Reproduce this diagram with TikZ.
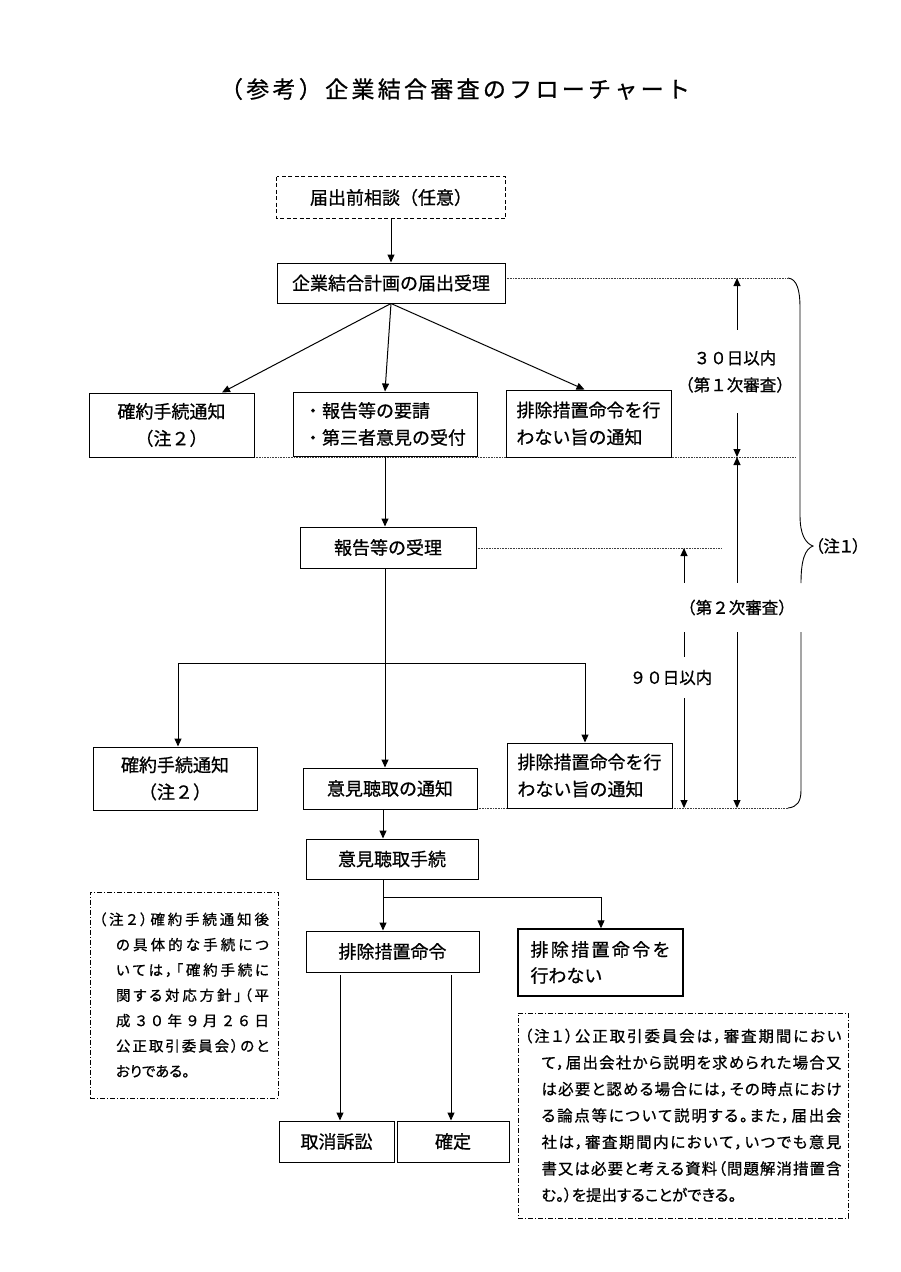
\documentclass[tikz,border=0pt]{standalone}
\usepackage{fontspec}
\setmainfont{Noto Sans CJK JP}[FakeBold=0.8]
\newfontfamily\jpp{Noto Sans CJK JP}[RawFeature=+palt, FakeBold=0.8]
\usetikzlibrary{arrows.meta}
\makeatletter
\def\spreadaux#1#2\endsp{#1\if\relax\detokenize{#2}\relax\else\hfil\spreadaux#2\endsp\fi}
\makeatother
\newcommand{\sline}[2]{\makebox[#1][s]{\spreadaux#2\endsp}}
\tikzset{
 bx/.style={draw, line width=1pt, fill=white, inner sep=0pt, font=\fontsize{18}{27}\selectfont, align=center},
 cn/.style={line width=1pt},
 arr/.style={line width=1pt, -{Triangle[length=8pt,width=7pt]}},
 dbl/.style={line width=1pt, {Triangle[length=8pt,width=7pt]}-{Triangle[length=8pt,width=7pt]}},
 dotln/.style={line width=0.6pt, densely dotted, draw=black!75},
 lbl/.style={fill=white, inner sep=0pt, font=\fontsize{16.5}{27}\selectfont, align=center},
 note/.style={draw, line width=0.8pt, dash pattern=on 5pt off 2pt on 1pt off 2pt, inner sep=0pt, align=left}
}
\begin{document}
\begin{tikzpicture}[x=1pt,y=-1pt]
\fill[white] (0,0) rectangle (900,1272);
\useasboundingbox (0,0) rectangle (900,1272);

\node[font=\fontsize{23}{30}\selectfont, inner sep=0pt, align=center] (title) at (455,89) {\sline{470pt}{（参考）企業結合審査のフローチャート}};

% dotted guide lines
\draw[dotln] (505,278) -- (788,278);
\draw[dotln] (254,457) -- (796,457);
\draw[dotln] (476,548) -- (721,548);
\draw[dotln] (477,808) -- (788,808);

% boxes
\node[bx, draw=none, minimum width=228pt, minimum height=41pt] (n0) at (391,197.5) {届出前相談（任意）};
\draw[line width=1pt, dash pattern=on 4pt off 2.5pt] (n0.north west) rectangle (n0.south east);
\node[bx, minimum width=228pt, minimum height=40pt] (n1) at (391,283) {企業結合計画の届出受理};
\node[bx, minimum width=165pt, minimum height=64pt] (k1) at (171.5,425) {確約手続通知\\（注２）};
\node[bx, align=left, minimum width=184pt, minimum height=64pt] (r1) at (385,424) {・報告等の要請\\・第三者意見の受付};
\node[bx, align=left, minimum width=165pt, minimum height=67pt] (h1) at (588.5,423.5) {排除措置命令を行\\わない旨の通知};
\node[bx, minimum width=176pt, minimum height=41pt] (n2) at (388,547.5) {報告等の受理};
\node[bx, minimum width=164pt, minimum height=63pt] (k2) at (175,778.5) {確約手続通知\\（注２）};
\node[bx, minimum width=174pt, minimum height=41pt] (n3) at (390,788.5) {意見聴取の通知};
\node[bx, align=left, minimum width=165pt, minimum height=65pt] (h2) at (589.5,775.5) {排除措置命令を行\\わない旨の通知};
\node[bx, minimum width=172pt, minimum height=40pt] (n4) at (392,859) {意見聴取手続};
\node[bx, minimum width=173pt, minimum height=41pt] (n5) at (392.5,951.5) {排除措置命令};
\node[bx, line width=1.4pt, align=left, font=\fontsize{18}{26}\selectfont, minimum width=165pt, minimum height=67pt] (n6) at (600.5,962.5) {\sline{140pt}{排除措置命令を}\\行わない\hspace*{68pt}};
\node[bx, minimum width=115pt, minimum height=41pt] (n7) at (336.5,1141.5) {取消訴訟};
\node[bx, minimum width=112pt, minimum height=41pt] (n8) at (453,1141.5) {確定};

% notes
\node[note, font=\jpp\fontsize{14.5}{25.3}\selectfont, minimum width=188pt, minimum height=206pt] (note2) at (184,995) {%
\sline{170pt}{（注２）確約手続通知後}\\
\hspace*{17pt}\sline{153pt}{の具体的な手続につ}\\
\hspace*{17pt}\sline{153pt}{いては，「確約手続に}\\
\hspace*{17pt}\sline{153pt}{関する対応方針」（平}\\
\hspace*{17pt}\sline{153pt}{成３０年９月２６日}\\
\hspace*{17pt}\sline{153pt}{公正取引委員会）のと}\\
\hspace*{17pt}おりである。};
\node[note, font=\jpp\fontsize{15.5}{26.5}\selectfont, minimum width=330pt, minimum height=205pt] (note1) at (683,1115.5) {%
\sline{317pt}{（注１）公正取引委員会は，審査期間におい}\\
\hspace*{17pt}\sline{300pt}{て，届出会社から説明を求められた場合又}\\
\hspace*{17pt}\sline{300pt}{は必要と認める場合には，その時点におけ}\\
\hspace*{17pt}\sline{300pt}{る論点等について説明する。また，届出会}\\
\hspace*{17pt}\sline{300pt}{社は，審査期間内において，いつでも意見}\\
\hspace*{17pt}\sline{300pt}{書又は必要と考える資料（問題解消措置含}\\
\hspace*{17pt}む。）を提出することができる。};

% connectors
\draw[arr] (n0.south) -- (n1.north);
\draw[arr] (n1.south) -- ([xshift=50.5pt]k1.north);
\draw[arr] (n1.south) -- (r1.north);
\draw[arr] (n1.south) -- ([xshift=-4pt]h1.north);
\draw[arr] (r1.south) -- (r1.south |- n2.north);
\draw[arr] (r1.south |- n2.south) -- (r1.south |- n3.north);
\coordinate (bl) at (178,663);
\coordinate (br) at (585,663);
\draw[cn] (bl) -- (br);
\draw[arr] (bl) -- (bl |- k2.north);
\draw[arr] (br) -- (br |- h2.north);
\coordinate (c3) at (383,0);
\draw[arr] (c3 |- n3.south) -- (c3 |- n4.north);
\coordinate (j4) at (383,897);
\coordinate (c6) at (601,0);
\draw[cn] (c3 |- n4.south) -- (j4);
\draw[arr] (j4) -- (j4 |- n5.north);
\draw[arr] (j4) -| (c6 |- n6.north);
\coordinate (c7) at (340,975);
\coordinate (c8) at (451,975);
\draw[arr] (c7) -- (c7 |- n7.north);
\draw[arr] (c8) -- (c8 |- n8.north);

% time-line arrows
\coordinate (t1) at (737,278);
\coordinate (t2) at (737,457);
\coordinate (t3) at (737,808);
\coordinate (u1) at (684,548);
\coordinate (u2) at (684,808);
\draw[dbl] (t1) -- (t2);
\draw[dbl] (t2) -- (t3);
\draw[dbl] (u1) -- (u2);
\node[lbl, minimum height=83pt] (l30) at (735,371.5) {３０日以内\\（第１次審査）};
\node[lbl, minimum height=49pt, minimum width=114pt] (l2) at (737,607.5) {（第２次審査）};
\node[lbl, minimum height=41pt] (l90) at (671,677.5) {９０日以内};

% brace
\draw[line width=0.9pt] (788,278) .. controls (797,279) and (800,290) .. (800,308) -- (800,515) .. controls (800,534) and (805,543) .. (813,546) .. controls (805,549) and (801,560) .. (801,583);
\draw[line width=0.9pt] (801,632) -- (801,790) .. controls (801,802) and (797,807) .. (788,808);
\node[font=\jpp\fontsize{16.5}{20}\selectfont, anchor=west, inner sep=0pt] (c1) at (815,546) {（注１）};
\end{tikzpicture}
\end{document}
